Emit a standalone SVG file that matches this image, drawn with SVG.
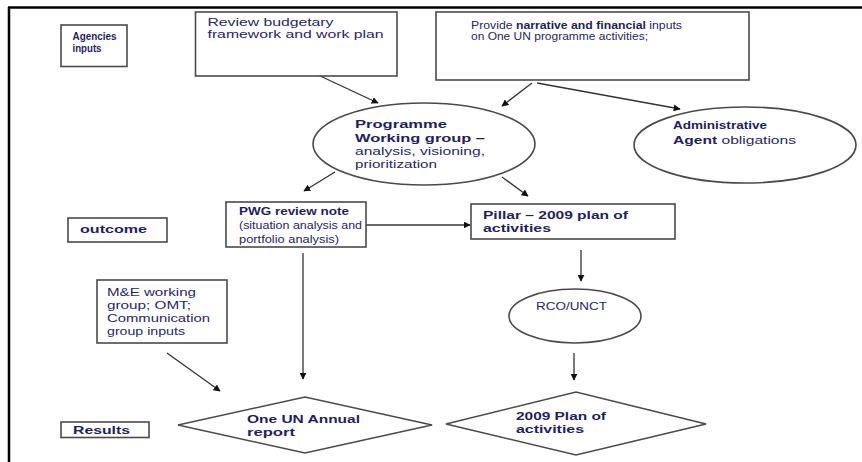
<svg xmlns="http://www.w3.org/2000/svg" width="862" height="462" viewBox="0 0 862 462">
<style>
.box{fill:#fff;stroke:#4a4a4a;stroke-width:1.6}
.t{font-family:"Liberation Sans",Arial,sans-serif;font-size:11px;fill:#26266e}
.b{font-weight:bold;fill:#1e1e66}
.c{stroke:#333;stroke-width:1.3;fill:none;marker-end:url(#ah)}
</style>
<defs>
<marker id="ah" viewBox="0 0 10 10" refX="9" refY="5" markerWidth="7" markerHeight="7" markerUnits="userSpaceOnUse" orient="auto">
<path d="M0,0 L10,5 L0,10 Z" fill="#111"/>
</marker>
</defs>
<rect width="862" height="462" fill="#fff"/>
<g id="frame">
<line x1="8" y1="7.5" x2="862" y2="7.5" stroke="#000" stroke-width="2.5"/>
<line x1="9" y1="7" x2="9" y2="462" stroke="#000" stroke-width="2.5"/>
</g>
<g id="connectors">
<line class="c" x1="303" y1="68" x2="378" y2="103"/>
<line class="c" x1="532" y1="83" x2="502" y2="106"/>
<line class="c" x1="537" y1="83" x2="680" y2="109"/>
<line class="c" x1="335" y1="172" x2="304" y2="191"/>
<line class="c" x1="502" y1="177" x2="528" y2="196"/>
<line class="c" x1="366" y1="225" x2="470" y2="225"/>
<line class="c" x1="581" y1="250" x2="581" y2="281"/>
<line class="c" x1="574" y1="353" x2="574" y2="380"/>
<line class="c" x1="303" y1="253" x2="303" y2="379"/>
<line class="c" x1="167" y1="353" x2="220" y2="391"/>
</g>
<g id="agencies-inputs">
<rect class="box" x="61" y="25" width="66" height="41.5"/>
<text class="t b" x="72.5" y="39.5" font-size="12" textLength="44" lengthAdjust="spacingAndGlyphs">Agencies</text>
<text class="t b" x="72.5" y="51.5" font-size="12" textLength="29" lengthAdjust="spacingAndGlyphs">inputs</text>
</g>
<g id="review-budgetary">
<rect class="box" x="195.5" y="12" width="201.5" height="64"/>
<text class="t" x="207.5" y="26" textLength="126" lengthAdjust="spacingAndGlyphs">Review budgetary</text>
<text class="t" x="207.5" y="38" textLength="176" lengthAdjust="spacingAndGlyphs">framework and work plan</text>
</g>
<g id="provide-inputs">
<rect class="box" x="436" y="12" width="313" height="68"/>
<text class="t" x="471" y="28.5" textLength="211" lengthAdjust="spacingAndGlyphs">Provide <tspan class="b">narrative and financial</tspan> inputs</text>
<text class="t" x="471" y="39.5" textLength="177" lengthAdjust="spacingAndGlyphs">on One UN programme activities;</text>
</g>
<g id="programme-working-group">
<ellipse class="box" cx="424" cy="144" rx="111" ry="41"/>
<text class="t b" x="355" y="128" textLength="92" lengthAdjust="spacingAndGlyphs">Programme</text>
<text class="t b" x="355" y="141.5" textLength="130" lengthAdjust="spacingAndGlyphs">Working group –</text>
<text class="t" x="355" y="154.5" textLength="130" lengthAdjust="spacingAndGlyphs">analysis, visioning,</text>
<text class="t" x="355" y="167.5" textLength="82" lengthAdjust="spacingAndGlyphs">prioritization</text>
</g>
<g id="administrative-agent">
<ellipse class="box" cx="745" cy="145" rx="111" ry="38"/>
<text class="t b" x="673" y="129" textLength="94" lengthAdjust="spacingAndGlyphs">Administrative</text>
<text class="t" x="673" y="144" textLength="123" lengthAdjust="spacingAndGlyphs"><tspan class="b">Agent</tspan> obligations</text>
</g>
<g id="outcome">
<rect class="box" x="68" y="218" width="99" height="24"/>
<text class="t b" x="80" y="233" textLength="67" lengthAdjust="spacingAndGlyphs">outcome</text>
</g>
<g id="pwg-review-note">
<rect class="box" x="226" y="202" width="140" height="45"/>
<text class="t b" x="239" y="215" textLength="110" lengthAdjust="spacingAndGlyphs">PWG review note</text>
<text class="t" x="239" y="229" textLength="123" lengthAdjust="spacingAndGlyphs">(situation analysis and</text>
<text class="t" x="239" y="242.5" textLength="100" lengthAdjust="spacingAndGlyphs">portfolio analysis)</text>
</g>
<g id="pillar-plan">
<rect class="box" x="471" y="204" width="204" height="35"/>
<text class="t b" x="483" y="219" textLength="145" lengthAdjust="spacingAndGlyphs">Pillar – 2009 plan of</text>
<text class="t b" x="483" y="232" textLength="68" lengthAdjust="spacingAndGlyphs">activities</text>
</g>
<g id="me-working-group">
<rect class="box" x="97" y="280" width="130" height="63"/>
<text class="t" x="107" y="296" textLength="89" lengthAdjust="spacingAndGlyphs">M&amp;E working</text>
<text class="t" x="107" y="309" textLength="84" lengthAdjust="spacingAndGlyphs">group; OMT;</text>
<text class="t" x="107" y="322" textLength="103" lengthAdjust="spacingAndGlyphs">Communication</text>
<text class="t" x="107" y="335" textLength="78" lengthAdjust="spacingAndGlyphs">group inputs</text>
</g>
<g id="rco-unct">
<ellipse class="box" cx="575" cy="316" rx="66" ry="27"/>
<text class="t" x="536" y="310" textLength="71" lengthAdjust="spacingAndGlyphs">RCO/UNCT</text>
</g>
<g id="one-un-annual-report">
<polygon class="box" points="178,425 305,397 432,425 305,453"/>
<text class="t b" x="247" y="423" textLength="113" lengthAdjust="spacingAndGlyphs">One UN Annual</text>
<text class="t b" x="247" y="435.5" textLength="48" lengthAdjust="spacingAndGlyphs">report</text>
</g>
<g id="plan-2009">
<polygon class="box" points="446,424 576,392 706,424 576,455"/>
<text class="t b" x="516" y="420" textLength="90" lengthAdjust="spacingAndGlyphs">2009 Plan of</text>
<text class="t b" x="516" y="433" textLength="68" lengthAdjust="spacingAndGlyphs">activities</text>
</g>
<g id="results">
<rect class="box" x="61" y="422" width="88" height="15.5"/>
<text class="t b" x="73" y="433.5" textLength="57" lengthAdjust="spacingAndGlyphs">Results</text>
</g>
</svg>
